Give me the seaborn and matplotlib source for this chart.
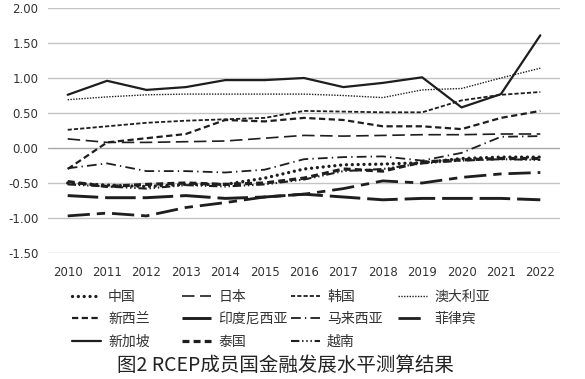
import matplotlib
matplotlib.use("Agg")
import matplotlib.pyplot as plt
import seaborn as sns
import pandas as pd
from matplotlib.lines import Line2D

years = [2010, 2011, 2012, 2013, 2014, 2015, 2016, 2017, 2018, 2019, 2020, 2021, 2022]

china       = [-0.50, -0.53, -0.55, -0.52, -0.52, -0.43, -0.30, -0.24, -0.23, -0.21, -0.15, -0.13, -0.13]
japan       = [0.13, 0.08, 0.08, 0.09, 0.10, 0.14, 0.18, 0.17, 0.18, 0.19, 0.19, 0.20, 0.20]
korea       = [0.26, 0.31, 0.36, 0.39, 0.41, 0.43, 0.53, 0.52, 0.51, 0.51, 0.68, 0.76, 0.80]
australia   = [0.69, 0.73, 0.76, 0.77, 0.77, 0.77, 0.77, 0.75, 0.72, 0.83, 0.85, 1.00, 1.14]
newzealand  = [-0.30, 0.08, 0.14, 0.20, 0.40, 0.38, 0.43, 0.40, 0.31, 0.31, 0.27, 0.43, 0.53]
indonesia   = [-0.68, -0.71, -0.71, -0.68, -0.72, -0.70, -0.66, -0.70, -0.74, -0.72, -0.72, -0.72, -0.74]
malaysia    = [-0.29, -0.22, -0.33, -0.33, -0.35, -0.31, -0.16, -0.13, -0.12, -0.18, -0.07, 0.16, 0.17]
philippines = [-0.97, -0.93, -0.97, -0.85, -0.78, -0.70, -0.66, -0.58, -0.47, -0.50, -0.42, -0.37, -0.35]
singapore   = [0.76, 0.96, 0.83, 0.87, 0.97, 0.97, 1.00, 0.87, 0.93, 1.01, 0.58, 0.77, 1.61]
thailand    = [-0.48, -0.55, -0.52, -0.50, -0.52, -0.50, -0.43, -0.30, -0.33, -0.20, -0.17, -0.15, -0.15]
vietnam     = [-0.52, -0.55, -0.58, -0.53, -0.55, -0.52, -0.45, -0.33, -0.30, -0.22, -0.18, -0.16, -0.17]

names = ["中国", "日本", "韩国", "澳大利亚", "新西兰", "印度尼西亚", "马来西亚", "菲律宾", "新加坡", "泰国", "越南"]
series = [china, japan, korea, australia, newzealand, indonesia, malaysia, philippines, singapore, thailand, vietnam]
yticks = [-1.5, -1.0, -0.5, 0.0, 0.5, 1.0, 1.5, 2.0]
caption = "图2 RCEP成员国金融发展水平测算结果"

sns.set_theme(style="white")
plt.rcParams["font.family"] = ["Noto Sans CJK SC", "DejaVu Sans"]
plt.rcParams["lines.scale_dashes"] = False

styles = {
    "中国":     dict(ls=(0, (0.01, 4.2)), lw=2.4, cap="round"),
    "日本":     dict(ls=(0, (9, 4)), lw=1.2, cap="butt"),
    "韩国":     dict(ls=(0, (3, 1.5)), lw=1.3, cap="butt"),
    "澳大利亚": dict(ls=(0, (1, 1)), lw=1.0, cap="butt"),
    "新西兰":   dict(ls=(0, (4.5, 2.5)), lw=1.6, cap="butt"),
    "印度尼西亚": dict(ls=(0, (22, 5)), lw=2.1, cap="butt"),
    "马来西亚": dict(ls=(0, (7, 3, 1, 3)), lw=1.3, cap="butt"),
    "菲律宾":   dict(ls=(0, (16, 5, 6, 5)), lw=2.0, cap="butt"),
    "新加坡":   dict(ls="-", lw=1.6, cap="butt"),
    "泰国":     dict(ls=(0, (5, 3)), lw=2.3, cap="butt"),
    "越南":     dict(ls=(0, (6, 2, 1, 2, 1, 2, 1, 2)), lw=1.5, cap="butt"),
}

df = pd.DataFrame({"year": years * len(names),
                   "country": [n for n in names for _ in years],
                   "value": [v for s in series for v in s]})

fig = plt.figure(figsize=(5.85, 3.79), dpi=100)
ax = fig.add_axes([48 / 585, 1 - 253 / 379, (560 - 48) / 585, (253 - 8) / 379])

color = "#1e1e1e"
for n in names:
    st = styles[n]
    sub = df[df["country"] == n]
    sns.lineplot(data=sub, x="year", y="value", ax=ax, color=color,
                 linewidth=st["lw"], legend=False)
    ln = ax.lines[-1]
    ln.set_linestyle(st["ls"])
    ln.set_dash_capstyle(st["cap"])

ax.set_xlim(2009.5, 2022.5)
ax.set_ylim(-1.5, 2.0)
ax.set_yticks(yticks)
ax.set_yticklabels([f"{t:.2f}" for t in yticks])
ax.set_xticks(years)
ax.set_xticklabels([str(y) for y in years])
ax.set_xlabel("")
ax.set_ylabel("")
for t in yticks:
    ax.axhline(t, color="#a8a8a8" if t == 0 else "#c4c4c4", lw=1.0, zorder=0)
for s in ax.spines.values():
    s.set_visible(False)
ax.tick_params(axis="both", length=0, labelsize=8.5, labelcolor="#333333")
ax.tick_params(axis="y", pad=7)
ax.tick_params(axis="x", pad=9)
for lab in ax.get_xticklabels() + ax.get_yticklabels():
    lab.set_family(["DejaVu Sans"])

# legend in four columns
cols = [["中国", "新西兰", "新加坡"], ["日本", "印度尼西亚", "泰国"],
        ["韩国", "马来西亚", "越南"], ["澳大利亚", "菲律宾"]]
col_x = [72, 182, 291, 398]
for cx, cn in zip(col_x, cols):
    handles = []
    for n in cn:
        st = styles[n]
        h = Line2D([], [], color=color, linewidth=st["lw"], linestyle=st["ls"],
                   dash_capstyle=st["cap"])
        handles.append(h)
    leg = fig.legend(handles, cn, loc="upper left",
                     bbox_to_anchor=(cx / 585, 1 - 290 / 379),
                     frameon=False, fontsize=10, handlelength=2.1,
                     handletextpad=0.5, labelspacing=0.6, borderpad=0,
                     borderaxespad=0)
    for t in leg.get_texts():
        t.set_color("#333333")

fig.text(285 / 585, 1 - 365 / 379, caption, ha="center", va="center",
         fontsize=14, color="#222222")

fig.savefig("out.png", dpi=100)
